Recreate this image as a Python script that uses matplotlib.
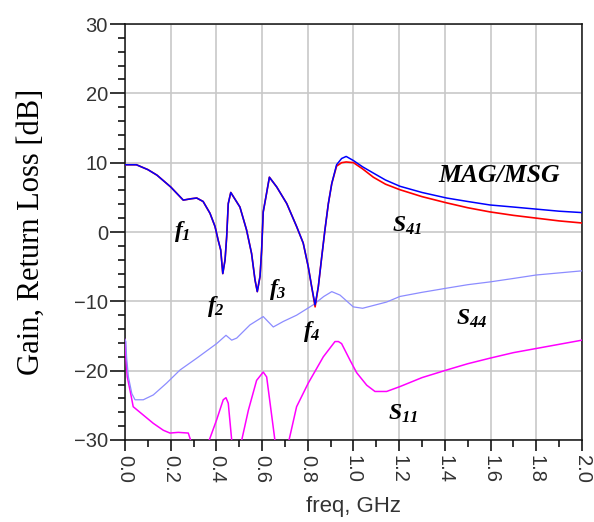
"""Gain / return loss vs frequency (MAG/MSG, S41, S44, S11)."""

import matplotlib

matplotlib.use("Agg")
import matplotlib.pyplot as plt
from matplotlib.ticker import MultipleLocator

plt.rcParams.update(
    {
        "font.family": "sans-serif",
        "font.sans-serif": ["Liberation Sans", "DejaVu Sans"],
        "mathtext.fontset": "custom",
        "mathtext.rm": "Liberation Serif:italic:bold",
        "mathtext.it": "Liberation Serif:italic:bold",
        "mathtext.bf": "Liberation Serif:italic:bold",
    }
)

# gain traces (dB), shared frequency grid (GHz)
gain_freq = [
    0.000, 0.050, 0.100, 0.140, 0.200, 0.255, 0.290, 0.314, 0.342, 0.372,
    0.394, 0.408, 0.419, 0.428, 0.438, 0.445, 0.452, 0.463, 0.503, 0.532,
    0.554, 0.569, 0.579, 0.591, 0.598, 0.605, 0.617, 0.632, 0.664, 0.708,
    0.751, 0.780, 0.802, 0.817, 0.832, 0.846, 0.861, 0.875, 0.890, 0.905,
    0.926, 0.948, 0.968, 1.000, 1.040, 1.087, 1.140, 1.203, 1.300, 1.408,
    1.500, 1.597, 1.700, 1.800, 1.900, 2.000,
]
mag_msg = [
    9.7, 9.7, 9.0, 8.2, 6.5, 4.6, 4.8, 4.9, 4.4, 2.7,
    0.8, -1.2, -2.6, -6.0, -4.0, -0.7, 4.1, 5.7, 3.6, 0.3,
    -3.1, -6.9, -8.6, -6.4, -2.6, 2.9, 5.1, 7.9, 6.5, 4.1,
    0.8, -1.6, -5.0, -7.9, -10.5, -7.9, -3.6, 0.3, 4.1, 7.0,
    9.7, 10.6, 10.9, 10.3, 9.4, 8.5, 7.5, 6.6, 5.7, 4.9,
    4.4, 3.9, 3.6, 3.3, 3.0, 2.8,
]
s41 = [
    9.7, 9.7, 9.0, 8.2, 6.5, 4.6, 4.8, 4.9, 4.4, 2.7,
    0.8, -1.2, -2.6, -6.0, -4.0, -0.7, 4.1, 5.7, 3.6, 0.3,
    -3.1, -6.9, -8.6, -6.4, -2.6, 2.9, 5.1, 7.9, 6.5, 4.1,
    0.8, -1.6, -5.0, -7.9, -10.8, -7.9, -3.6, 0.3, 4.1, 7.0,
    9.5, 10.0, 10.1, 10.0, 9.1, 7.9, 6.9, 6.1, 5.1, 4.2,
    3.5, 2.9, 2.4, 2.0, 1.6, 1.3,
]

s44_freq = [
    0.000, 0.004, 0.007, 0.015, 0.030, 0.044, 0.080, 0.124, 0.182, 0.241,
    0.314, 0.401, 0.442, 0.467, 0.489, 0.547, 0.605, 0.649, 0.693, 0.751,
    0.824, 0.870, 0.905, 0.941, 0.999, 1.040, 1.145, 1.203, 1.300, 1.408,
    1.500, 1.597, 1.700, 1.800, 1.900, 2.000,
]
s44 = [
    -15.5, -15.8, -18.0, -20.9, -23.3, -24.2, -24.2, -23.5, -21.8, -19.9,
    -18.2, -16.1, -14.9, -15.6, -15.3, -13.4, -12.2, -13.7, -12.9, -12.0,
    -10.5, -9.3, -8.6, -9.1, -10.8, -11.0, -10.1, -9.3, -8.7, -8.1,
    -7.6, -7.2, -6.7, -6.2, -5.9, -5.6,
]

s11_freq = [
    0.000, 0.004, 0.010, 0.022, 0.036, 0.080, 0.124, 0.168, 0.197, 0.233,
    0.277, 0.292, 0.330, 0.369, 0.401, 0.430, 0.442, 0.452, 0.467, 0.490,
    0.511, 0.540, 0.576, 0.605, 0.620, 0.656, 0.690, 0.718, 0.751, 0.802,
    0.868, 0.919, 0.934, 0.948, 0.985, 1.014, 1.058, 1.094, 1.145, 1.203,
    1.300, 1.408, 1.500, 1.597, 1.700, 1.800, 1.900, 2.000,
]
s11 = [
    -15.5, -18.0, -20.9, -22.8, -25.2, -26.4, -27.6, -28.6, -29.0, -28.9,
    -29.0, -30.5, -36.0, -30.0, -27.1, -24.2, -23.9, -24.7, -30.0, -34.0,
    -30.0, -25.7, -21.4, -20.2, -20.9, -30.0, -36.0, -30.0, -25.2, -21.8,
    -18.0, -15.8, -15.8, -16.1, -18.5, -20.3, -22.1, -23.0, -23.0, -22.3,
    -21.0, -19.9, -19.0, -18.2, -17.4, -16.8, -16.2, -15.6,
]

fig = plt.figure(figsize=(5.94, 5.22), dpi=100)
ax = fig.add_axes([0.2104, 0.1571, 0.7694, 0.7969])

ax.plot(s11_freq, s11, color="#ff00ff", lw=1.1, zorder=3)
ax.plot(s44_freq, s44, color="#8c8cff", lw=0.9, zorder=3)
ax.plot(gain_freq, s41, color="#ff0000", lw=1.2, zorder=4)
ax.plot(gain_freq, mag_msg, color="#0000ff", lw=1.1, zorder=5)

ax.set_xlim(0, 2.0)
ax.set_ylim(-30, 30)
ax.xaxis.set_major_locator(MultipleLocator(0.2))
ax.xaxis.set_minor_locator(MultipleLocator(0.1))
ax.yaxis.set_major_locator(MultipleLocator(10))
ax.yaxis.set_minor_locator(MultipleLocator(2))
ax.set_xticklabels([f"{v:.1f}" for v in ax.get_xticks()], rotation=-90, va="top", ha="center")

ax.grid(True, which="major", color="#c8c8c8", lw=1.2, zorder=0)
ax.set_axisbelow(True)
for s in ax.spines.values():
    s.set_linewidth(1.1)
    s.set_color("#111111")

ax.tick_params(axis="y", which="major", direction="out", length=10.8, width=1.1,
               pad=1.5, labelsize=14.5, labelcolor="#333333")
ax.tick_params(axis="y", which="minor", direction="out", length=5, width=1.1)
ax.tick_params(axis="x", which="major", direction="out", length=8, width=1.1,
               pad=3, labelsize=14.5, labelcolor="#333333")
ax.tick_params(axis="x", which="minor", direction="out", length=5, width=1.1)

ax.set_xlabel("freq, GHz", fontsize=16, color="#333333", labelpad=9)
ax.set_ylabel("Gain, Return Loss [dB]", fontsize=22, family="Liberation Serif", labelpad=20)

# curve labels
labels = [
    (0.250, 0.021, r"$f_1$"),
    (0.398, -10.8, r"$f_2$"),
    (0.667, -8.3, r"$f_3$"),
    (0.816, -14.3, r"$f_4$"),
    (1.235, 0.9, r"$S_{41}$"),
    (1.515, -12.5, r"$S_{44}$"),
    (1.217, -26.2, r"$S_{11}$"),
]
for x, y, t in labels:
    ax.text(x, y, t, fontsize=17, ha="center", va="center", zorder=6)
ax.text(1.637, 8.1, "MAG/MSG", fontsize=18.5, family="Liberation Serif",
        style="italic", weight="bold", ha="center", va="center", zorder=6)

fig.savefig("out.png", dpi=100)
